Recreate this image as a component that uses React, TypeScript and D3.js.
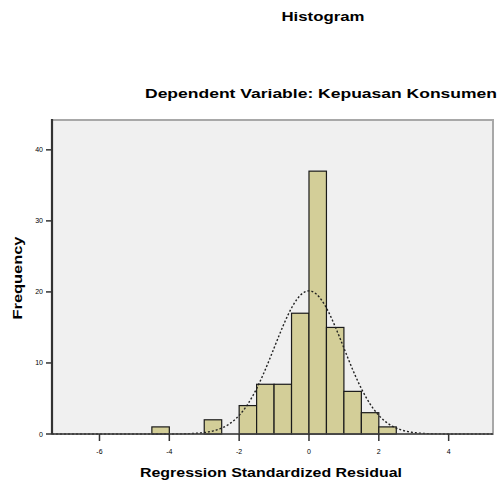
import React from "react";
import * as d3 from "d3";

const binStarts = [-4.5, -3.0, -2.0, -1.5, -1.0, -0.5, 0.0, 0.5, 1.0, 1.5, 2.0];
const binCounts = [1, 2, 4, 7, 7, 17, 37, 15, 6, 3, 1];
const binWidth = 0.5;
const xTicks = [-6, -4, -2, 0, 2, 4];
const yTicks = [0, 10, 20, 30, 40];
const curveMean = 0;
const curveSd = 0.99;
const totalN = 100;

const W = 501, H = 486;
const L = 52, R = 493, T = 120, B = 434;

export default function App() {
  const x = d3.scaleLinear().domain([-7.36, 5.27]).range([L, R]);
  const y = d3.scaleLinear().domain([0, 44.2]).range([B, T]);
  const pts = d3.range(-7.36, 5.27, 0.02).map((v) => [
    v,
    (totalN * binWidth) / (curveSd * Math.sqrt(2 * Math.PI)) *
      Math.exp(-0.5 * ((v - curveMean) / curveSd) ** 2),
  ]);
  const line = d3
    .line<number[]>()
    .x((d) => x(d[0]))
    .y((d) => y(d[1]));
  const font = "'Liberation Sans', Arial, sans-serif";
  return (
    <svg width={W} height={H} style={{ position: "absolute", left: 0, top: 0, background: "#fff" }}>
      <text x={323} y={21} textAnchor="middle" fontFamily={font} fontWeight="bold" fontSize={13} textLength={83} lengthAdjust="spacingAndGlyphs">Histogram</text>
      <text x={321} y={98} textAnchor="middle" fontFamily={font} fontWeight="bold" fontSize={13} textLength={352} lengthAdjust="spacingAndGlyphs">Dependent Variable: Kepuasan Konsumen</text>
      <rect x={L} y={T} width={R - L} height={B - T} fill="#f0f0f0" stroke="#a8a8a8" strokeWidth={2} />
      {binStarts.map((s, i) => (
        <rect key={i} x={x(s)} y={y(binCounts[i])} width={x(s + binWidth) - x(s)} height={B - y(binCounts[i])}
          fill="#d3ce98" stroke="#1a1a1a" strokeWidth={1.2} />
      ))}
      <path d={line(pts) || ""} fill="none" stroke="#222" strokeWidth={1.4} strokeDasharray="2,2" />
      <line x1={L} x2={R} y1={B} y2={B} stroke="#444" strokeWidth={1.5} />
      <line x1={L} x2={L} y1={T - 1} y2={B} stroke="#333" strokeWidth={2.2} />
      {yTicks.map((t) => (
        <g key={t}>
          <line x1={L - 6} x2={L} y1={y(t)} y2={y(t)} stroke="#333" strokeWidth={1.5} />
          <text x={L - 9} y={y(t) + 2.5} textAnchor="end" fontFamily={font} fontSize={7}>{t}</text>
        </g>
      ))}
      {xTicks.map((t) => (
        <g key={t}>
          <line x1={x(t)} x2={x(t)} y1={B} y2={B + 7} stroke="#333" strokeWidth={1.5} />
          <text x={x(t)} y={B + 20} textAnchor="middle" fontFamily={font} fontSize={7}>{t}</text>
        </g>
      ))}
      <text x={271} y={477} textAnchor="middle" fontFamily={font} fontWeight="bold" fontSize={12} textLength={262} lengthAdjust="spacingAndGlyphs">Regression Standardized Residual</text>
      <text transform="translate(22,278) rotate(-90)" textAnchor="middle" fontFamily={font} fontWeight="bold" fontSize={12} textLength={83} lengthAdjust="spacingAndGlyphs">Frequency</text>
    </svg>
  );
}
